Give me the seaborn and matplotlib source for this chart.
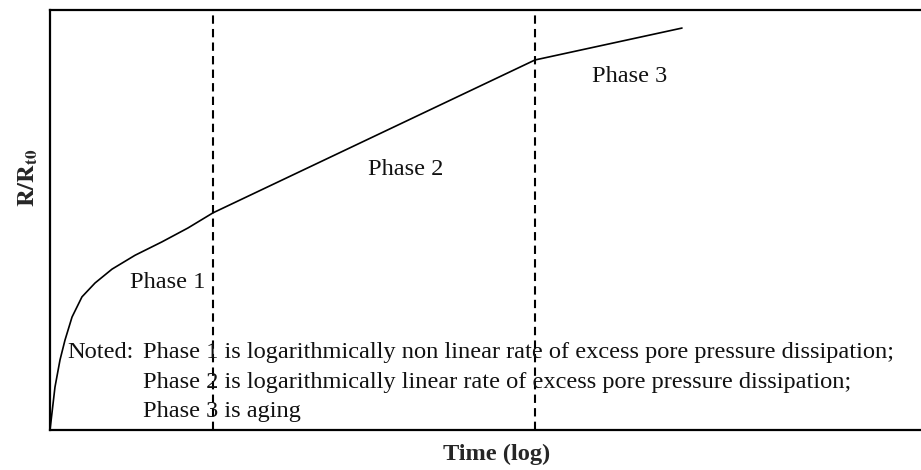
import matplotlib
matplotlib.use("Agg")
import matplotlib.pyplot as plt
import seaborn as sns
import pandas as pd

# Curve values (log-time units, relative R/Rt0 units)
log_time = [0.0, 0.057, 0.115, 0.172, 0.253, 0.367, 0.517, 0.712, 0.976, 1.286, 1.584, 1.871, 5.568, 7.256]
r_ratio = [0.0, 1.02, 1.67, 2.14, 2.69, 3.17, 3.50, 3.83, 4.16, 4.48, 4.81, 5.17, 8.81, 9.57]

# Phase boundaries
phase_bounds = [1.871, 5.568]

phase_labels = ["Phase 1", "Phase 2", "Phase 3"]
phase_label_x = [1.78, 4.08, 6.65]
phase_label_y = [3.38, 6.07, 8.29]
phase_label_ha = ["right", "center", "center"]

note_head = "Noted:"
note_lines = [
    "Phase 1 is logarithmically non linear rate of excess pore pressure dissipation;",
    "Phase 2 is logarithmically linear rate of excess pore pressure dissipation;",
    "Phase 3 is aging",
]
note_y = [1.71, 1.00, 0.31]

sns.set_style("white")
plt.rcParams["font.family"] = ["Liberation Serif", "DejaVu Serif"]
plt.rcParams["mathtext.fontset"] = "stix"

fig = plt.figure(figsize=(9.21, 4.70), dpi=100)
ax = fig.add_axes([50 / 921, 40 / 470, 871 / 921, 420 / 470])

df = pd.DataFrame({"t": log_time, "r": r_ratio})
sns.lineplot(data=df, x="t", y="r", ax=ax, color="black", linewidth=1.2,
             sort=False, estimator=None, solid_joinstyle="round")

for xb in phase_bounds:
    ax.axvline(xb, color="black", linewidth=1.5, linestyle=(0, (4, 2.5)))

ax.set_xlim(0, 10)
ax.set_ylim(0, 10)
ax.set_xticks([])
ax.set_yticks([])
ax.set_xlabel("")
ax.set_ylabel("")

for side in ["left", "bottom", "top"]:
    ax.spines[side].set_color("black")
    ax.spines[side].set_linewidth(1.6)
ax.spines["right"].set_visible(False)

fs = 17.6
for lab, x, y, ha in zip(phase_labels, phase_label_x, phase_label_y, phase_label_ha):
    ax.text(x, y, lab, ha=ha, va="baseline", fontsize=fs, color="#111111")

ax.text(0.195, note_y[0], note_head, ha="left", va="baseline", fontsize=fs, color="#111111")
for line, y in zip(note_lines, note_y):
    ax.text(1.07, y, line, ha="left", va="baseline", fontsize=fs, color="#111111")

fig.text(497 / 921, 1 - 454 / 470, "Time (log)", ha="center", va="center",
         fontsize=fs, fontweight="bold")
fig.text(28 / 921, 1 - 178 / 470, r"$\mathbf{R/R_{t0}}$", ha="center", va="center",
         rotation=90, fontsize=fs)

fig.savefig("out.png", dpi=100)
